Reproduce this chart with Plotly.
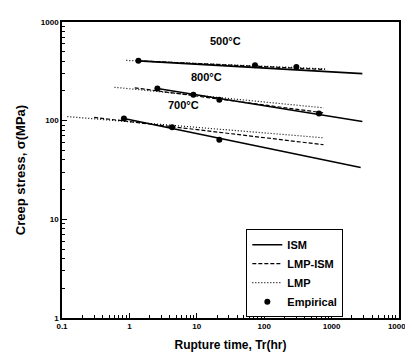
import plotly.graph_objects as go
import math

# ---- data ----
# 500 C
t500_emp = [1.36, 73, 300]
s500_emp = [404, 365, 350]
t500_ism = [1.36, 2860]
s500_ism = [404, 300]
t500_lmpism = [1.36, 800]
s500_lmpism = [404, 330]
t500_lmp = [0.9, 800]
s500_lmp = [408, 335]

# 800 C
t800_emp = [2.6, 8.9, 21.6, 650]
s800_emp = [212, 183, 163, 118]
t800_ism = [2.6, 2860]
s800_ism = [212, 98]
t800_lmpism = [1.2, 760]
s800_lmpism = [215, 120]
t800_lmp = [0.6, 760]
s800_lmp = [218, 135]

# 700 C
t700_emp = [0.83, 4.3, 21.6]
s700_emp = [105, 86, 64]
t700_ism = [0.83, 2700]
s700_ism = [105, 33.5]
t700_lmpism = [0.3, 760]
s700_lmpism = [108, 57]
t700_lmp = [0.12, 760]
s700_lmp = [110, 67]

temp_labels = ["500\u00b0C", "800\u00b0C", "700\u00b0C"]
temp_label_t = [27, 14.1, 6.4]
temp_label_s = [640, 278, 145]

x_tickvals = [0.1, 1, 10, 100, 1000, 10000]
x_ticktext = ["0.1", "1", "10", "100", "1000", "10000"]
y_tickvals = [1, 10, 100, 1000]
y_ticktext = ["1", "10", "100", "1000"]

FONT = "Arial, Liberation Sans, sans-serif"

fig = go.Figure()

groups = [
    (t500_ism, s500_ism, t500_lmpism, s500_lmpism, t500_lmp, s500_lmp, t500_emp, s500_emp),
    (t800_ism, s800_ism, t800_lmpism, s800_lmpism, t800_lmp, s800_lmp, t800_emp, s800_emp),
    (t700_ism, s700_ism, t700_lmpism, s700_lmpism, t700_lmp, s700_lmp, t700_emp, s700_emp),
]

for i, (ti, si, td, sd, tl, sl, te, se) in enumerate(groups):
    first = i == 0
    fig.add_trace(go.Scatter(x=tl, y=sl, mode="lines", name="LMP", legendrank=3,
                             line=dict(color="black", width=1.2, dash="1px,2px"),
                             showlegend=first))
    fig.add_trace(go.Scatter(x=td, y=sd, mode="lines", name="LMP-ISM", legendrank=2,
                             line=dict(color="black", width=1.2, dash="4px,2px"),
                             showlegend=first))
    fig.add_trace(go.Scatter(x=ti, y=si, mode="lines", name="ISM", legendrank=1,
                             line=dict(color="black", width=1.6),
                             showlegend=first))
    fig.add_trace(go.Scatter(x=te, y=se, mode="markers", name="Empirical", legendrank=4,
                             marker=dict(color="black", size=6, symbol="circle"),
                             showlegend=first))

for lab, tx, sy in zip(temp_labels, temp_label_t, temp_label_s):
    fig.add_annotation(x=math.log10(tx), y=math.log10(sy), xref="x", yref="y",
                       text=lab, showarrow=False,
                       font=dict(family=FONT, size=11, color="black", weight="bold"))


def minor_vals(lo_exp, hi_exp):
    vals = []
    for e in range(lo_exp, hi_exp):
        for d in range(2, 10):
            vals.append(d * 10.0 ** e)
    return vals


axis_common = dict(
    type="log", showgrid=False, zeroline=False,
    showline=True, linecolor="black", linewidth=1.5, mirror=True,
    ticks="inside", ticklen=5, tickcolor="black", tickwidth=1,
    tickfont=dict(family=FONT, size=8, color="black", weight="bold"),
)

fig.update_xaxes(**axis_common, range=[-1, 4], tickvals=x_tickvals, ticktext=x_ticktext,
                 minor=dict(ticks="inside", ticklen=3, tickcolor="black", tickwidth=1,
                            showgrid=False, tickmode="array", tickvals=minor_vals(-1, 4)),
                 title=dict(text="Rupture time, Tr(hr)", standoff=10,
                            font=dict(family=FONT, size=12, color="black", weight="bold")))
fig.update_yaxes(**axis_common, range=[0, 3], tickvals=y_tickvals, ticktext=y_ticktext,
                 minor=dict(ticks="inside", ticklen=3, tickcolor="black", tickwidth=1,
                            showgrid=False, tickmode="array", tickvals=minor_vals(0, 3)),
                 title=dict(text="Creep stress, \u03c3(MPa)", standoff=12,
                            font=dict(family=FONT, size=13, color="black", weight="bold")))

fig.update_layout(
    width=413, height=352,
    margin=dict(l=54, r=10, t=14, b=41),
    paper_bgcolor="white", plot_bgcolor="white",
    showlegend=True,
    legend=dict(x=0.547, y=0.30, xanchor="left", yanchor="top",
                bordercolor="black", borderwidth=1, bgcolor="white",
                font=dict(family=FONT, size=11, color="black", weight="bold"),
                tracegroupgap=0, itemwidth=30),
)

fig.write_html("out.html")
